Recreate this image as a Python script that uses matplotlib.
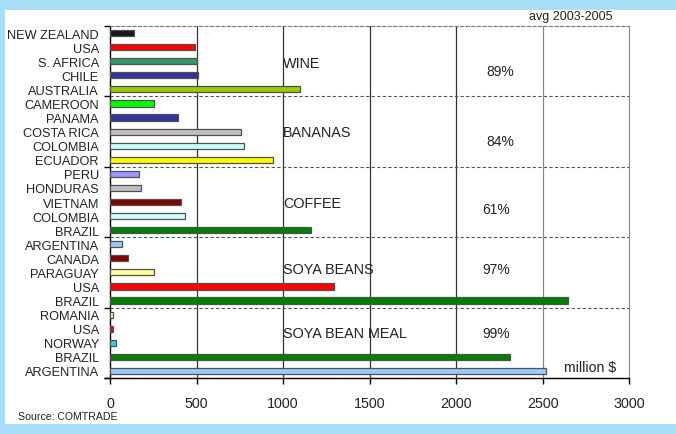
import numpy as np
import matplotlib.pyplot as plt
from matplotlib.patches import Rectangle

plt.rcParams['font.family'] = ['Liberation Sans', 'DejaVu Sans']

# ── Data (million $, avg 2003-2005), listed top to bottom ────────────────
groups = ['WINE', 'BANANAS', 'COFFEE', 'SOYA BEANS', 'SOYA BEAN MEAL']
shares = ['89%', '84%', '61%', '97%', '99%']

countries = [
    ['NEW ZEALAND', 'USA', 'S. AFRICA', 'CHILE', 'AUSTRALIA'],
    ['CAMEROON', 'PANAMA', 'COSTA RICA', 'COLOMBIA', 'ECUADOR'],
    ['PERU', 'HONDURAS', 'VIETNAM', 'COLOMBIA', 'BRAZIL'],
    ['ARGENTINA', 'CANADA', 'PARAGUAY', 'USA', 'BRAZIL'],
    ['ROMANIA', 'USA', 'NORWAY', 'BRAZIL', 'ARGENTINA'],
]
values = [
    [139, 491, 505, 507, 1096],
    [252, 391, 759, 776, 944],
    [169, 177, 408, 431, 1159],
    [71, 102, 252, 1292, 2644],
    [19, 17, 35, 2311, 2519],
]
colors = [
    ['#1a1a1a', '#ff0000', '#339966', '#333399', '#99cc00'],
    ['#00ff00', '#333399', '#c0c0c0', '#ccffff', '#ffff00'],
    ['#9999ff', '#c0c0c0', '#800000', '#ccffff', '#008000'],
    ['#99ccff', '#800000', '#ffff99', '#ff0000', '#008000'],
    ['#ffff99', '#ff0000', '#33ccff', '#008000', '#99ccff'],
]

labels = [c for g in countries for c in g]
vals = [v for g in values for v in g]
cols = [c for g in colors for c in g]
n = len(labels)
ypos = np.arange(n)

# ── Figure ───────────────────────────────────────────────────────────────
fig = plt.figure(figsize=(6.76, 4.35), dpi=100, facecolor='#a9def8')
fig.patches.append(Rectangle((5 / 676, 10 / 435), 1 - 5 / 676, 414 / 435,
                             transform=fig.transFigure, facecolor='white',
                             edgecolor='none', zorder=-5))
ax = fig.add_axes([110 / 676, 56 / 435, 519.3 / 676, 352 / 435])
ax.set_facecolor('white')

ax.barh(ypos, vals, height=0.44, color=cols, edgecolor='#505050',
        linewidth=0.9, zorder=3)

ax.set_xlim(0, 3000)
ax.set_ylim(n - 0.5, -0.5)
ax.set_xticks(np.arange(0, 3001, 500))
ax.tick_params(axis='x', direction='out', length=4, width=1, color='black',
               labelsize=10.3, labelcolor='#222222', pad=9)

# y labels without tick marks; ticks only at group boundaries
ax.set_yticks(ypos)
ax.set_yticklabels(labels, fontsize=9.2, color='#222222')
ax.tick_params(axis='y', length=0, pad=8)
bounds = np.arange(-0.5, n, 5)
ax.set_yticks(np.append(bounds, n - 0.5), minor=True)
ax.tick_params(axis='y', which='minor', length=4, width=1, color='black',
               direction='out')

# gridlines
for xv in [500, 1000, 1500, 2000]:
    ax.axvline(xv, color='#333333', lw=0.9, zorder=1)
ax.axvline(2500, color='#888888', lw=0.9, zorder=1)
for b in bounds[1:]:
    ax.axhline(b, color='#555555', lw=0.8, ls=(0, (3, 2)), zorder=1)

for side in ['left', 'bottom']:
    ax.spines[side].set_color('black')
    ax.spines[side].set_linewidth(1)
ax.spines['right'].set_color('#888888')
ax.spines['top'].set_color('#777777')
ax.spines['top'].set_linestyle((0, (3, 2)))
ax.spines['top'].set_linewidth(0.8)

# group names and shares
group_y = [2.13, 7.03, 12.07, 16.76, 21.3]
for g, gy in zip(groups, group_y):
    ax.text(1000, gy, g, fontsize=10.4, color='#222222',
            va='center', ha='left', zorder=4)
share_x = [2255, 2255, 2230, 2230, 2230]
share_y = [2.7, 7.67, 12.5, 16.76, 21.3]
for s, sx, sy in zip(shares, share_x, share_y):
    ax.text(sx, sy, s, fontsize=10, color='#222222',
            va='center', ha='center', zorder=4)

ax.text(0.967, 1.012, 'avg 2003-2005', transform=ax.transAxes, fontsize=9,
        color='#222222', ha='right', va='bottom')
ax.text(2923, 23.7, 'million $', fontsize=10.2, color='#222222',
        ha='right', va='center', zorder=4)
fig.text(18 / 676, 1 - 417 / 435, 'Source: COMTRADE', fontsize=7.6,
         color='#222222', ha='left', va='center')

fig.savefig('out.png', dpi=100, facecolor=fig.get_facecolor())
